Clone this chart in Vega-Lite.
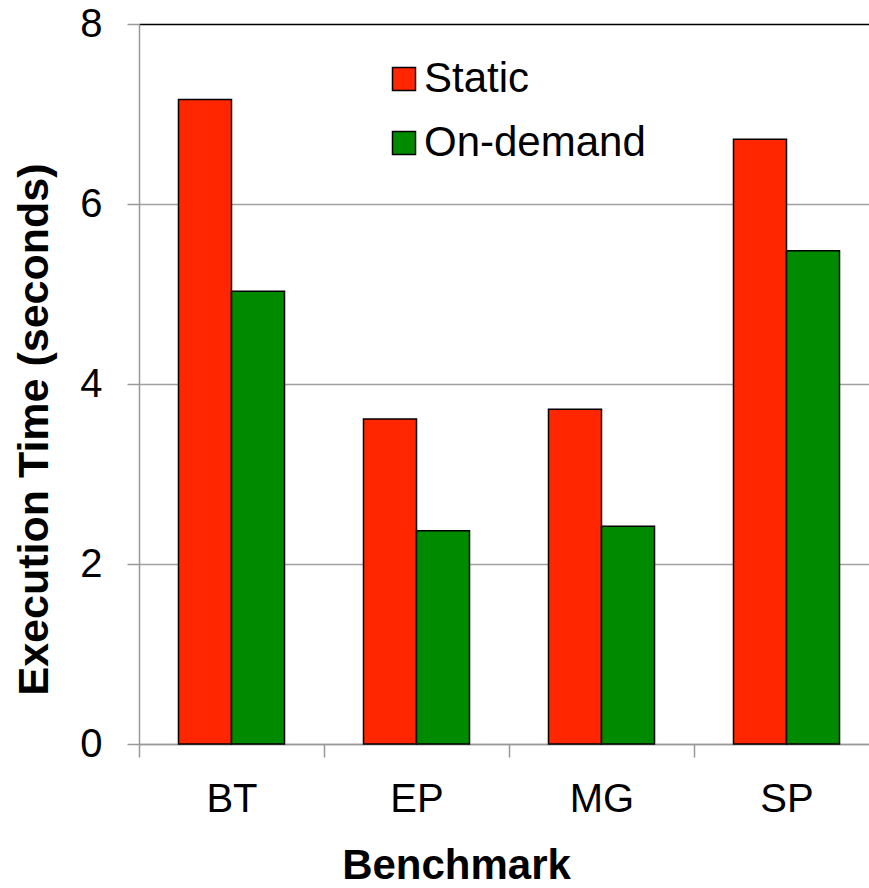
{
  "$schema": "https://vega.github.io/schema/vega-lite/v6.json",
  "autosize": {"type": "none"},
  "width": 730,
  "height": 720,
  "padding": {"left": 139, "top": 24, "right": 0, "bottom": 144},
  "background": "white",
  "data": {
    "values": [
      {"benchmark": "BT", "scheme": "Static", "time": 7.16},
      {"benchmark": "BT", "scheme": "On-demand", "time": 5.03},
      {"benchmark": "EP", "scheme": "Static", "time": 3.61},
      {"benchmark": "EP", "scheme": "On-demand", "time": 2.37},
      {"benchmark": "MG", "scheme": "Static", "time": 3.72},
      {"benchmark": "MG", "scheme": "On-demand", "time": 2.42},
      {"benchmark": "SP", "scheme": "Static", "time": 6.72},
      {"benchmark": "SP", "scheme": "On-demand", "time": 5.48}
    ]
  },
  "mark": {"type": "bar", "stroke": "black", "strokeWidth": 1.5},
  "encoding": {
    "x": {
      "field": "benchmark",
      "type": "nominal",
      "sort": ["BT", "EP", "MG", "SP"],
      "scale": {"range": [0, 740], "paddingInner": 0, "paddingOuter": 0},
      "axis": {
        "tickBand": "extent",
        "tickSize": 13,
        "tickColor": "#999999",
        "tickWidth": 1.5,
        "domainColor": "#999999",
        "domainWidth": 1.5,
        "labelFontSize": 40,
        "labelColor": "black",
        "labelBaseline": "alphabetic",
        "labelPadding": 54,
        "labelAngle": 0,
        "grid": false,
        "title": "Benchmark",
        "titleFontSize": 42,
        "titleFontWeight": "bold",
        "titleColor": "black",
        "titleX": 317,
        "titleY": 134,
        "titleAlign": "center",
        "titleBaseline": "alphabetic"
      }
    },
    "xOffset": {
      "field": "scheme",
      "type": "nominal",
      "sort": ["Static", "On-demand"],
      "scale": {"paddingInner": 0, "paddingOuter": 0.745}
    },
    "y": {
      "field": "time",
      "type": "quantitative",
      "scale": {"domain": [0, 8], "nice": false},
      "axis": {
        "values": [0, 2, 4, 6, 8],
        "labelFontSize": 40,
        "labelColor": "black",
        "labelPadding": 25,
        "tickSize": 12,
        "tickColor": "#999999",
        "tickWidth": 1.5,
        "domainColor": "#999999",
        "domainWidth": 1.5,
        "grid": true,
        "gridColor": {"condition": {"test": "datum.value === 8", "value": "black"}, "value": "#a0a0a0"},
        "gridWidth": 1.5,
        "title": "Execution Time (seconds)",
        "titleFontSize": 43,
        "titleFontWeight": "bold",
        "titleColor": "black",
        "titleAngle": -90,
        "titleX": -92,
        "titleY": 405,
        "titleAlign": "center",
        "titleBaseline": "alphabetic"
      }
    },
    "color": {
      "field": "scheme",
      "type": "nominal",
      "scale": {"domain": ["Static", "On-demand"], "range": ["#ff2600", "#008a00"]},
      "legend": {
        "orient": "none",
        "legendX": 244,
        "legendY": 34,
        "title": null,
        "padding": 0,
        "symbolType": "square",
        "symbolSize": 529,
        "symbolStrokeColor": "black",
        "symbolStrokeWidth": 1.5,
        "symbolOpacity": 1,
        "labelFontSize": 42,
        "labelColor": "black",
        "labelOffset": -1,
        "labelLimit": 400,
        "rowPadding": 22
      }
    }
  },
  "config": {
    "view": {"stroke": null},
    "font": "Liberation Sans"
  }
}
